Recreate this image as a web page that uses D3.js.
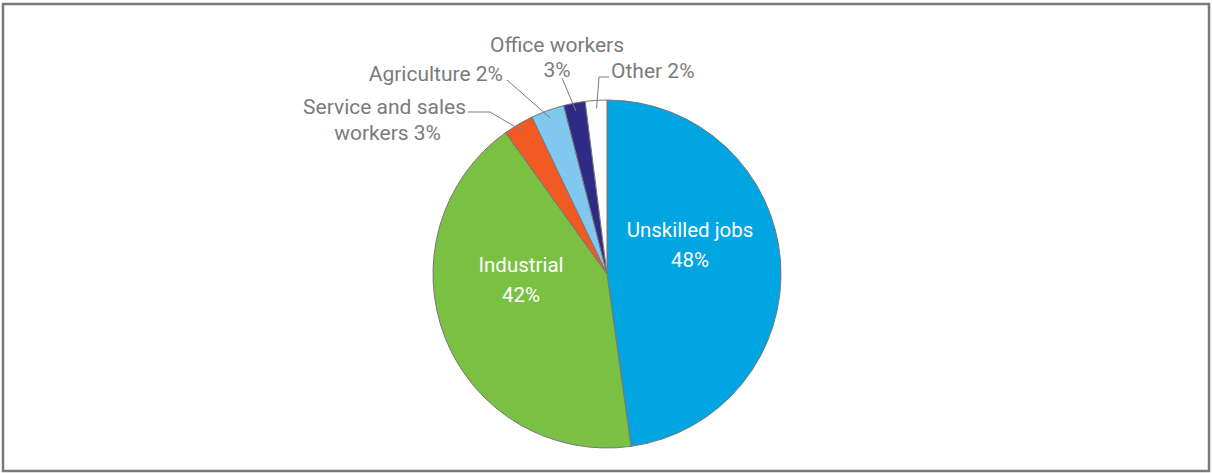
<!DOCTYPE html>
<html>
<head>
<meta charset="utf-8">
<script src="https://cdn.jsdelivr.net/npm/d3@7"></script>
<style>
  body { margin: 0; background: #fff; }
  text { font-family: Roboto, "Open Sans", sans-serif; }
</style>
</head>
<body>
<svg id="chart"></svg>
<script>
// slices clockwise from 12 o'clock
const categories = ["Unskilled jobs", "Industrial", "Service and sales workers", "Agriculture", "Office workers", "Other"];
const shares = [47.8, 42.3, 2.8, 3.1, 2.0, 2.0];
const shareLabels = ["48%", "42%", "3%", "2%", "3%", "2%"];
const colors = ["#00a5e1", "#7ac143", "#f15a22", "#80c8ef", "#2f2a85", "#ffffff"];

const width = 1212, height = 473;
const cx = 607, cy = 274, radius = 174;

const svg = d3.select("#chart")
    .attr("width", width)
    .attr("height", height);

// outer frame
svg.append("rect")
    .attr("x", 3).attr("y", 4)
    .attr("width", 1206).attr("height", 467)
    .attr("fill", "none")
    .attr("stroke", "#7a7a7a")
    .attr("stroke-width", 2.5);

const pie = d3.pie().sort(null).value(d => d);
const arcs = pie(shares);
const arc = d3.arc().innerRadius(0).outerRadius(radius);

const g = svg.append("g").attr("transform", `translate(${cx},${cy})`);

g.selectAll("path")
    .data(arcs)
    .enter().append("path")
    .attr("d", arc)
    .attr("fill", (d, i) => colors[i])
    .attr("stroke", "#777")
    .attr("stroke-width", 1);

// point on the rim (or any radius) at a slice's middle angle
function rimPoint(d, r) {
    const a = (d.startAngle + d.endAngle) / 2;
    return [r * Math.sin(a), -r * Math.cos(a)];
}

// labels inside the two big slices
const inside = [
    {i: 0, x: 83, y: -37},
    {i: 1, x: -86, y: -2}
];
inside.forEach(p => {
    const t = g.append("text")
        .attr("text-anchor", "middle")
        .attr("fill", "#fff")
        .attr("font-size", 20.5);
    t.append("tspan").attr("x", p.x).attr("y", p.y).text(categories[p.i]);
    t.append("tspan").attr("x", p.x).attr("y", p.y + 30).text(shareLabels[p.i]);
});

// outside labels with leader lines, coordinates relative to the centre
const outside = [
    {i: 2, lines: ["Service and sales", "workers 3%"], anchor: "end", x: [-141, -166], y: [-160, -134], path: [[-139, -162], [-117, -162]]},
    {i: 3, lines: ["Agriculture " + shareLabels[3]], anchor: "end", x: [-104], y: [-193], path: [[-100, -194]]},
    {i: 4, lines: ["Office workers", shareLabels[4]], anchor: "middle", x: [-50, -50], y: [-222, -197], path: [[-45, -196]]},
    {i: 5, lines: ["Other " + shareLabels[5]], anchor: "start", x: [4], y: [-196], path: [[2, -197], [-8, -197]]}
];
outside.forEach(p => {
    const t = g.append("text")
        .attr("text-anchor", p.anchor)
        .attr("fill", "#7b7b7b")
        .attr("font-size", 21);
    p.lines.forEach((s, k) => {
        t.append("tspan").attr("x", p.x[k]).attr("y", p.y[k]).text(s);
    });
    const end = rimPoint(arcs[p.i], radius - 8);
    g.append("path")
        .attr("d", d3.line()(p.path.concat([end])))
        .attr("fill", "none")
        .attr("stroke", "#7b7b7b")
        .attr("stroke-width", 1);
});
</script>
</body>
</html>
